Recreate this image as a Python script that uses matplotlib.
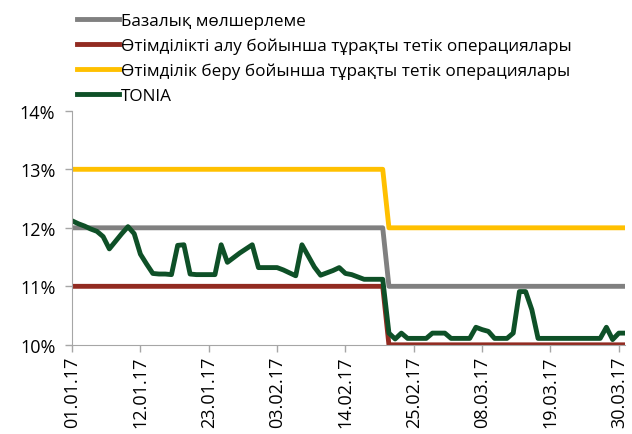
import matplotlib
matplotlib.use("Agg")
import matplotlib.pyplot as plt
import pandas as pd

plt.rcParams['font.family'] = ['Open Sans', 'DejaVu Sans']

# policy corridor (breakpoints of the lines)
rate_dates = pd.to_datetime(['2017-01-01', '2017-02-20', '2017-02-21', '2017-03-31'])
base_rate = [12.0, 12.0, 11.0, 11.0]
absorb_rate = [11.0, 11.0, 10.0, 10.0]
lend_rate = [13.0, 13.0, 12.0, 12.0]

# TONIA, daily
tonia_dates = pd.date_range('2017-01-01', '2017-03-31', freq='D')
tonia = [12.12, 12.07, 12.03, 11.98, 11.94, 11.85, 11.64, 11.77, 11.90, 12.02,
         11.90, 11.55, 11.38, 11.22, 11.21, 11.21, 11.20, 11.70, 11.71, 11.21,
         11.20, 11.20, 11.20, 11.20, 11.71, 11.41, 11.49, 11.57, 11.64, 11.71,
         11.32, 11.32, 11.32, 11.32, 11.28, 11.23, 11.18, 11.71, 11.52, 11.33,
         11.19, 11.23, 11.27, 11.32, 11.22, 11.20, 11.16, 11.12, 11.12, 11.12,
         11.12, 10.20, 10.10, 10.20, 10.11, 10.11, 10.11, 10.11, 10.20, 10.20,
         10.20, 10.11, 10.11, 10.11, 10.11, 10.30, 10.26, 10.23, 10.11, 10.11,
         10.11, 10.20, 10.91, 10.91, 10.60, 10.11, 10.11, 10.11, 10.11, 10.11,
         10.11, 10.11, 10.11, 10.11, 10.11, 10.11, 10.30, 10.09, 10.20, 10.20]

labels = ['Базалық мөлшерлеме',
          'Өтімділікті алу бойынша тұрақты тетік операциялары',
          'Өтімділік беру бойынша тұрақты тетік операциялары',
          'TONIA']

fig = plt.figure(figsize=(6.32, 4.35), dpi=100)
ax = fig.add_axes([0.114, 0.205, 0.875, 0.538])

ax.plot(rate_dates, base_rate, color='#808080', lw=3.5, label=labels[0])
ax.plot(rate_dates, absorb_rate, color='#922B21', lw=3.5, label=labels[1])
ax.plot(rate_dates, lend_rate, color='#FFC000', lw=3.5, label=labels[2])
ax.plot(tonia_dates, tonia, color='#0E5027', lw=3.5, label=labels[3])

ax.set_ylim(10, 14)
ax.set_yticks([10, 11, 12, 13, 14])
ax.set_yticklabels([f"{v}%" for v in [10, 11, 12, 13, 14]], fontsize=13)
ax.set_xlim(tonia_dates[0], tonia_dates[-1])
ticks = pd.date_range('2017-01-01', '2017-03-31', freq='11D')
ax.set_xticks(ticks)
ax.set_xticklabels([d.strftime('%d.%m.%y') for d in ticks], rotation=90, fontsize=13)

for s in ['top', 'right']:
    ax.spines[s].set_visible(False)
for s in ['left', 'bottom']:
    ax.spines[s].set_color('#A6A6A6')
ax.tick_params(axis='both', color='#A6A6A6', length=5, width=1)
ax.tick_params(axis='y', pad=7)
ax.tick_params(axis='x', pad=3)

fig.legend(loc='upper left', bbox_to_anchor=(0.097, 1.003), frameon=False,
           fontsize=12.3, handlelength=2.5, handletextpad=0.1, labelspacing=0.5)

plt.savefig('out.png', dpi=100)
